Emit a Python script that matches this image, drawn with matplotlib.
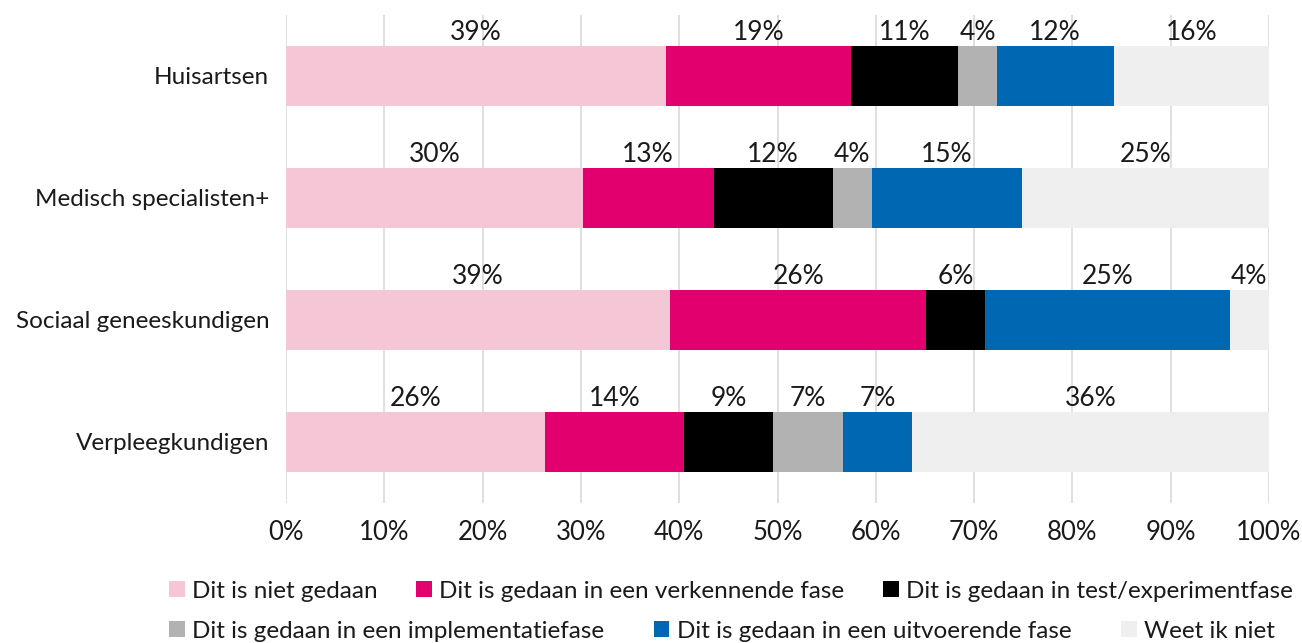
import matplotlib
matplotlib.use("Agg")
import matplotlib.pyplot as plt
import numpy as np

plt.rcParams['font.family'] = ['Lato', 'DejaVu Sans']

groups = ["Huisartsen", "Medisch specialisten+", "Sociaal geneeskundigen", "Verpleegkundigen"]
series_names = [
    "Dit is niet gedaan",
    "Dit is gedaan in een verkennende fase",
    "Dit is gedaan in test/experimentfase",
    "Dit is gedaan in een implementatiefase",
    "Dit is gedaan in een uitvoerende fase",
    "Weet ik niet",
]
niet_gedaan = [38.7, 30.2, 39.1, 26.3]
verkennend = [18.8, 13.3, 26.0, 14.2]
test_experiment = [10.9, 12.1, 6.0, 9.0]
implementatie = [3.9, 4.0, 0.0, 7.2]
uitvoerend = [11.9, 15.3, 24.9, 7.0]
weet_niet = [15.8, 25.1, 4.0, 36.3]
colors = ["#F5C6D5", "#E2006F", "#000000", "#B2B2B2", "#0068B3", "#EFEFEF"]

series = [niet_gedaan, verkennend, test_experiment, implementatie, uitvoerend, weet_niet]

fig = plt.figure(figsize=(13.02, 6.43), dpi=100)
ax = fig.add_axes([286 / 1302, 1 - 503 / 643, (1269 - 286) / 1302, (503 - 15) / 643])

y = np.arange(len(groups))
left = np.zeros(len(groups))
containers = []
for vals, name, col in zip(series, series_names, colors):
    vals = np.asarray(vals, dtype=float)
    bc = ax.barh(y, vals, left=left, height=0.485, color=col, label=name, zorder=2)
    containers.append(bc)
    for yi, l, v in zip(y, left, vals):
        if v > 0:
            ax.text(l + v / 2, yi - 0.355, f"{round(v)}%", ha="center", va="center",
                    fontsize=19, color="#1a1a1a", zorder=3)
    left += vals

ax.set_xlim(0, 100)
ax.set_ylim(len(groups) - 0.5, -0.5)
ax.set_xticks(np.arange(0, 101, 10))
ax.set_xticklabels([f"{t}%" for t in range(0, 101, 10)])
ax.set_yticks(y)
ax.set_yticklabels(groups)
ax.tick_params(axis="both", length=0, colors="#1a1a1a")
ax.tick_params(axis="x", pad=12, labelsize=18.5)
ax.tick_params(axis="y", pad=12, labelsize=17.5)
ax.grid(axis="x", color="#D9D9D9", linewidth=1.2, zorder=0)
ax.set_axisbelow(True)
for s in ax.spines.values():
    s.set_visible(False)

common = dict(frameon=False, fontsize=17.5, handlelength=0.64, handleheight=0.64,
              handletextpad=0.3, borderpad=0, borderaxespad=0,
              loc="center left", labelcolor="#1a1a1a")
leg1 = fig.legend(containers[:3], series_names[:3], ncol=3, columnspacing=1.6,
                  bbox_to_anchor=(169 / 1302, 1 - 591 / 643), **common)
leg2 = fig.legend(containers[3:], series_names[3:], ncol=3, columnspacing=2.05,
                  bbox_to_anchor=(169 / 1302, 1 - 631 / 643), **common)

fig.savefig("out.png", dpi=100, facecolor="white")
